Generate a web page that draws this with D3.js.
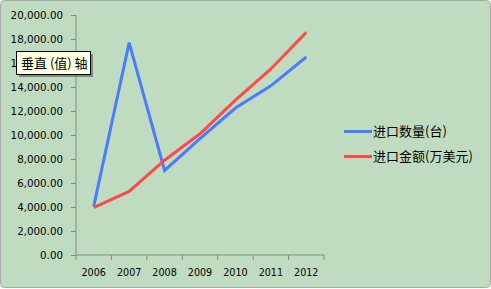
<!DOCTYPE html>
<html><head><meta charset="utf-8">
<script src="https://cdn.jsdelivr.net/npm/d3@7"></script>
<style>html,body{margin:0;padding:0;background:#fff;}svg{display:block;}</style>
</head><body>
<svg id="c" width="491" height="289"></svg>
<script>
const years = ["2006","2007","2008","2009","2010","2011","2012"];
const qty = [4050, 17700, 7050, 9700, 12250, 14100, 16500];
const amount = [3950, 5300, 7900, 10100, 12900, 15500, 18550];
const seriesNames = ["进口数量(台)", "进口金额(万美元)"];
const seriesColors = ["#4a7cfd", "#fe4a4d"];
const yTicks = [0,2000,4000,6000,8000,10000,12000,14000,16000,18000,20000];
const tooltipText = "垂直 (值) 轴";

(function(){
const svg = d3.select("#c");
svg.append("rect").attr("x",0.5).attr("y",0.5).attr("width",490).attr("height",287)
  .attr("rx",4).attr("fill","#c0dcc0").attr("stroke","#a8a8a8");

const pL = 76, pR = 324, pT = 15, pB = 255;
const x = d3.scaleBand().domain(years).range([pL, pR]);
const y = d3.scaleLinear().domain([0,20000]).range([pB, pT]);
const fmt = d3.format(",.2f");

const yAxis = svg.append("g").attr("transform",`translate(${pL},0)`)
  .call(d3.axisLeft(y).tickValues(yTicks).tickFormat(fmt).tickSize(5).tickPadding(8));
const xAxis = svg.append("g").attr("transform",`translate(0,${pB})`)
  .call(d3.axisBottom(x).tickValues([]).tickSizeOuter(0));
const bounds = years.map(d => x(d)).concat([pR]);
xAxis.selectAll(".bt").data(bounds).enter().append("line")
  .attr("x1",d=>d).attr("x2",d=>d).attr("y1",0).attr("y2",5).attr("stroke","#868686");
xAxis.selectAll(".lbl").data(years).enter().append("text")
  .attr("x",d=>x(d)+x.bandwidth()/2).attr("y",21).attr("text-anchor","middle")
  .attr("font-family","DejaVu Sans").attr("font-size","9.6px").attr("fill","#000").text(d=>d);
[yAxis, xAxis].forEach(g=>{
  g.selectAll(".domain").attr("stroke","#868686");
  g.selectAll(".tick line").attr("stroke","#868686");
  g.selectAll(".tick text").attr("font-family","DejaVu Sans").attr("font-size","10.3px").attr("fill","#000");
});
yAxis.select(".domain").attr("d",`M0,${pB}V${pT}`).attr("fill","none");
xAxis.select(".domain").attr("d",`M${pL},0H${pR}`);

const line = d3.line().x((d,i)=>x(years[i])+x.bandwidth()/2).y(d=>y(d));
[qty, amount].forEach((s,i)=>{
  svg.append("path").attr("d",line(s)).attr("fill","none")
    .attr("stroke",seriesColors[i]).attr("stroke-width",3).attr("stroke-linejoin","miter");
});

const lg = svg.append("g");
seriesNames.forEach((n,i)=>{
  const yy = 131.5 + i*25;
  lg.append("line").attr("x1",344).attr("x2",372).attr("y1",yy).attr("y2",yy)
    .attr("stroke",seriesColors[i]).attr("stroke-width",3);
  lg.append("text").attr("x",373).attr("y",yy).attr("dy","0.36em")
    .attr("font-family","Noto Sans CJK SC").attr("font-size","13px").attr("fill","#000").text(n);
});

const tt = svg.append("g");
tt.append("rect").attr("x",19).attr("y",54).attr("width",74).attr("height",23).attr("fill","#555").attr("opacity",0.6);
tt.append("rect").attr("x",16.5).attr("y",51.5).attr("width",74).attr("height",23)
  .attr("fill","#ffffe1").attr("stroke","#000");
tt.append("text").attr("x",21).attr("y",63).attr("dy","0.36em")
  .attr("font-family","Noto Sans CJK SC").attr("font-size","13px").attr("fill","#000").text(tooltipText);
})();
</script>
</body></html>
